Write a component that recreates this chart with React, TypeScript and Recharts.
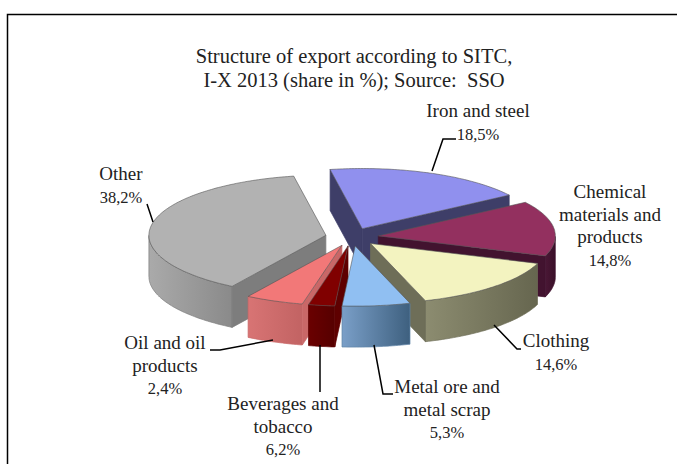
import {PieChart, Pie, Cell} from 'recharts';

// clockwise from the back-left slice
const categories = ['Other', 'Iron and steel', 'Chemical materials and products', 'Clothing', 'Metal ore and metal scrap', 'Beverages and tobacco', 'Oil and oil products'];
// wedge sizes as drawn (the printed labels of the three small slices do not match their wedges)
const drawnShares = [38.2, 18.5, 14.8, 14.6, 6.2, 2.4, 5.3];
const printedShares = ['38,2%', '18,5%', '14,8%', '14,6%', '5,3%', '6,2%', '2,4%'];
const labelRows = [
    ['Other'],
    ['Iron and steel'],
    ['Chemical', 'materials and', 'products'],
    ['Clothing'],
    ['Metal ore and', 'metal scrap'],
    ['Beverages and', 'tobacco'],
    ['Oil and oil', 'products'],
];
const titleRows = ['Structure of export according to SITC,', 'I-X 2013 (share in %); Source:  SSO'];

const topColors = ['#b2b2b2', '#9090ee', '#93305f', '#f3f3c0', '#90bff2', '#800000', '#f27878'];
const wallColors = ['#7d7d7d', '#3e3e68', '#42132f', '#6e6e58', '#5f84a8', '#5e0000', '#c96767'];
const rimStops = [
    ['#aaaaaa', '#8a8a8a'],
    ['#3e3e68', '#3e3e68'],
    ['#4a1735', '#3a1029'],
    ['#8c8c70', '#66664f'],
    ['#7a9fc8', '#3e607f'],
    ['#6a0000', '#560000'],
    ['#d87474', '#c26363'],
];

const labelSpots = [
    {x: 121, y: 180},
    {x: 478, y: 117},
    {x: 610, y: 198},
    {x: 556, y: 347},
    {x: 447, y: 393},
    {x: 283, y: 410},
    {x: 165, y: 349},
];
const leaders = [
    '153,222 147,204',
    '432,171 443,139 456,139',
    '',
    '494,325 517,349 521,349',
    '374,345 383,394 393,394',
    '320,345 320,392',
    '273,340 220,350 210,350',
];

const SQUASH = 0.34;
const DEPTH = 41;
const EXPLODE = 0.15;
const RAD = Math.PI / 180;
// the small front slices are painted afterwards, from the outside in, so each one covers its neighbour's wall
const FRONT_SLICES = [4, 5, 6];

function drawSlice(props: any) {
    const {cx, cy, outerRadius: r, fill} = props;
    const idx = props.payload?.idx ?? props.idx;
    // both pies run in opposite directions, so go by the angles' order
    const hi = Math.max(props.startAngle, props.endAngle);
    const lo = Math.min(props.startAngle, props.endAngle);
    const mid = (hi + lo) / 2;
    const ox = cx + EXPLODE * r * Math.cos(mid * RAD);
    const oy = cy - EXPLODE * r * SQUASH * Math.sin(mid * RAD);
    const rim = (a: number, drop = 0) => [ox + r * Math.cos(a * RAD), oy - r * SQUASH * Math.sin(a * RAD) + drop];
    const path = (pts: number[][]) => 'M' + pts.map(p => p[0].toFixed(1) + ',' + p[1].toFixed(1)).join('L') + 'Z';

    const arc: number[] = [];
    const steps = Math.ceil(hi - lo);
    for (let i = 0; i <= steps; i++) arc.push(hi - (hi - lo) * i / steps);

    const front = arc.filter(a => Math.sin(a * RAD) < 0);
    const edge = wallColors[idx];
    const radial = (a: number) => path([[ox, oy], rim(a), rim(a, DEPTH), [ox, oy + DEPTH]]);

    return (
        <g>
            <defs>
                <linearGradient id={'rim' + idx} x1="0" y1="0" x2="1" y2="0">
                    <stop offset="0%" stopColor={rimStops[idx][0]}/>
                    <stop offset="100%" stopColor={rimStops[idx][1]}/>
                </linearGradient>
            </defs>
            {front.length > 1 && (
                <path d={path([...front.map(a => rim(a)), ...[...front].reverse().map(a => rim(a, DEPTH))])}
                      fill={`url(#rim${idx})`} stroke={edge} strokeWidth={0.7}/>
            )}
            {Math.cos(hi * RAD) < 0 && <path d={radial(hi)} fill={edge} stroke={edge} strokeWidth={0.7}/>}
            {Math.cos(lo * RAD) > 0 && <path d={radial(lo)} fill={edge} stroke={edge} strokeWidth={0.7}/>}
            <path d={path([[ox, oy], ...arc.map(a => rim(a))])} fill={fill} stroke="#555" strokeWidth={0.6}/>
        </g>
    );
}

const BackSlice = (props: any) => FRONT_SLICES.includes(props.payload?.idx ?? props.idx) ? <g/> : drawSlice(props);
const FrontSlice = (props: any) => FRONT_SLICES.includes(props.payload?.idx ?? props.idx) ? drawSlice(props) : <g/>;

const data = categories.map((name, idx) => ({name, share: drawnShares[idx], idx}));
const reversedData = [...data].reverse();

const labelStyle = {fontFamily: '"Liberation Serif"', fontSize: 19, fill: '#222'};
const titleStyle = {fontFamily: '"Liberation Serif"', fontSize: 20.5, fill: '#222', whiteSpace: 'pre'} as const;

function SliceLabel({index}: any) {
    const spot = labelSpots[index];
    const rows = labelRows[index];
    return (
        <g>
            {leaders[index] && <polyline points={leaders[index]} fill="none" stroke="#000" strokeWidth={1.5}/>}
            <text textAnchor="middle" style={labelStyle}>
                {rows.map((row, i) => <tspan key={i} x={spot.x} y={spot.y + i * 22.5}>{row}</tspan>)}
                <tspan x={spot.x} y={spot.y + rows.length * 22.5} fontSize={16.5}>{printedShares[index]}</tspan>
            </text>
        </g>
    );
}

export default function App() {
    return (
        <div style={{position: 'absolute', left: 0, top: 0}}>
            <PieChart width={677} height={464} margin={{top: 0, right: 0, bottom: 0, left: 0}}>
                <rect x={7.5} y={14.5} width={700} height={480} fill="#fff" stroke="#000" strokeWidth={1.5}/>
                <text textAnchor="middle" style={titleStyle}>
                    {titleRows.map((row, i) => <tspan key={i} x={354} y={63 + i * 24}>{row}</tspan>)}
                </text>
                <Pie data={data} dataKey="share" nameKey="name" cx={352} cy={237} outerRadius={177}
                     startAngle={-122} endAngle={-482} stroke="none" isAnimationActive={false}
                     shape={BackSlice} label={SliceLabel} labelLine={false}>
                    {data.map((d) => <Cell key={d.name} fill={topColors[d.idx]}/>)}
                </Pie>
                <Pie data={reversedData} dataKey="share" nameKey="name" cx={352} cy={237} outerRadius={177}
                     startAngle={-122} endAngle={238} stroke="none" isAnimationActive={false}
                     shape={FrontSlice} labelLine={false}>
                    {reversedData.map((d) => <Cell key={d.name} fill={topColors[d.idx]}/>)}
                </Pie>
            </PieChart>
        </div>
    );
}
